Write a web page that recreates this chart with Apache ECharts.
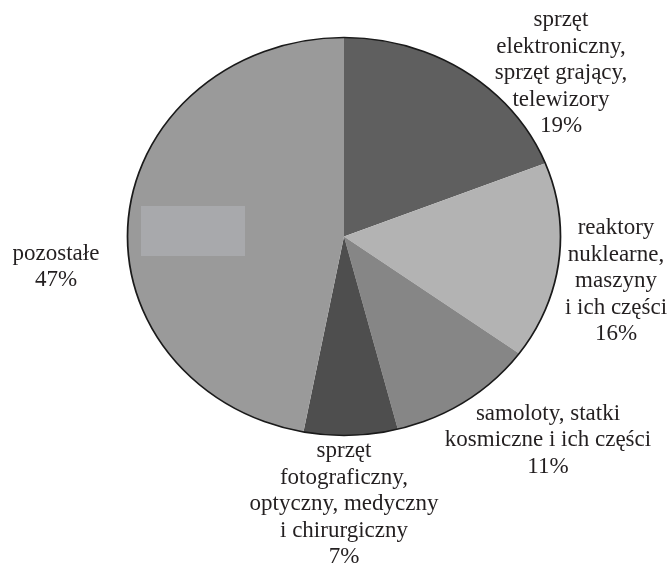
<!DOCTYPE html>
<html><head><meta charset="utf-8">
<script src="https://cdn.jsdelivr.net/npm/echarts@6/dist/echarts.min.js"></script>
<style>html,body{margin:0;padding:0;background:#fff}#c{width:669px;height:564px}</style>
</head><body><div id="c"></div>
<script>
const categories = [
  'sprzęt\nelektroniczny,\nsprzęt grający,\ntelewizory',
  'reaktory\nnuklearne,\nmaszyny\ni ich części',
  'samoloty, statki\nkosmiczne i ich części',
  'sprzęt\nfotograficzny,\noptyczny, medyczny\ni chirurgiczny',
  'pozostałe'
];
const values = [19, 16, 11, 7, 47];
const colors = ['#5f5f5f', '#b3b3b3', '#868686', '#4e4e4e', '#9a9a9a'];
const labelPos = [[561, 73], [616, 281], [548, 440], [344, 504], [56, 267]];

const CX = 344, CY = 236.5, R = 199, SX = 216.5 / 199;

const chart = echarts.init(document.getElementById('c'), null, {renderer: 'canvas'});
const pieData = categories.map((n, i) => ({name: n, value: values[i], itemStyle: {color: colors[i]}}));

chart.setOption({
  animation: false,
  backgroundColor: '#ffffff',
  series: [
    {
      type: 'pie', center: [CX, CY], radius: [0, R], startAngle: 90, clockwise: true,
      silent: true, label: {show: false}, labelLine: {show: false},
      itemStyle: {borderWidth: 0},
      data: pieData, z: 2
    },
    {
      type: 'pie', center: [CX, CY], radius: [0, R], startAngle: 90, clockwise: true,
      silent: true, avoidLabelOverlap: false,
      itemStyle: {color: 'rgba(0,0,0,0)', borderWidth: 0},
      label: {
        show: true, position: 'outside',
        fontFamily: 'Liberation Serif', fontSize: 23, lineHeight: 26.5, color: '#231f20',
        formatter: p => p.name + '\n' + p.value + '%'
      },
      labelLine: {show: false},
      labelLayout: p => ({x: labelPos[p.dataIndex][0], y: labelPos[p.dataIndex][1], align: 'center', verticalAlign: 'middle'}),
      data: categories.map((n, i) => ({name: n, value: values[i]})), z: 5
    },
    {
      type: 'pie', center: [CX, CY], radius: [0, R], silent: true,
      label: {show: false}, labelLine: {show: false},
      itemStyle: {color: 'rgba(0,0,0,0)', borderColor: '#1a1a1a', borderWidth: 1.6},
      data: [{name: 'outline', value: 1}], z: 4
    }
  ],
  graphic: [{
    type: 'rect', shape: {x: 141, y: 206, width: 104, height: 50},
    style: {fill: '#a8a9ac'}, z: 100, silent: true
  }]
});

function stretch() {
  try {
    const model = chart.getModel();
    [0, 2].forEach(i => {
      const s = model.getSeriesByIndex(i);
      const view = chart.getViewOfSeriesModel(s);
      const g = view.group;
      g.originX = CX; g.originY = CY; g.scaleX = SX; g.scaleY = 1;
      g.markRedraw && g.markRedraw();
      g.traverse(el => { el.markRedraw && el.markRedraw(); });
    });
    chart.getZr().refresh();
  } catch (e) { console.log(e); }
}
stretch();
</script></body></html>
